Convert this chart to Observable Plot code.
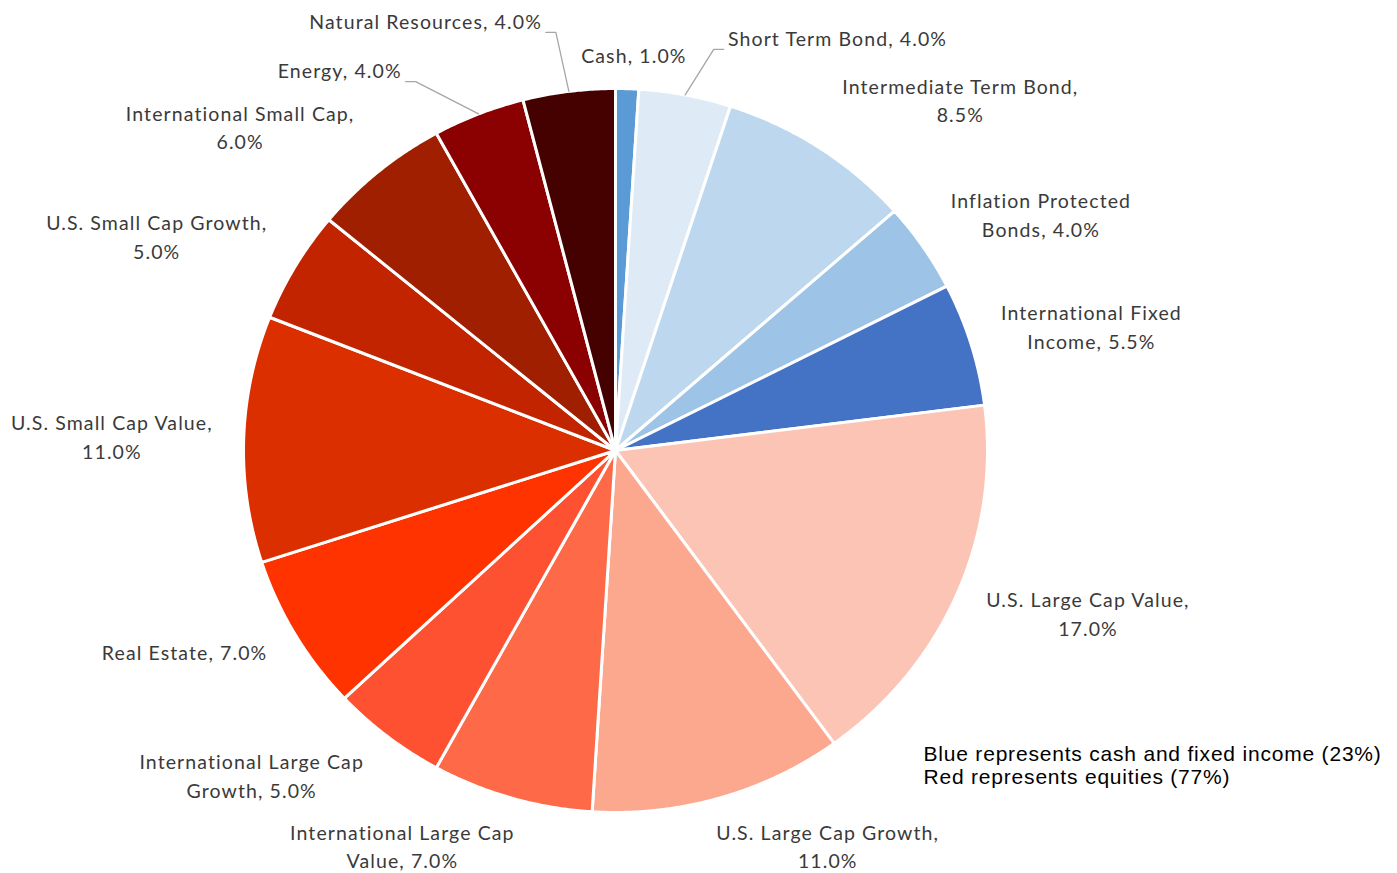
<!DOCTYPE html>
<html><head><meta charset="utf-8">
<script src="https://cdn.jsdelivr.net/npm/d3@7"></script>
<script src="https://cdn.jsdelivr.net/npm/@observablehq/plot@0.6"></script>
<style>
body{margin:0;background:#fff;}
#chart{width:1397px;height:873px;}
</style>
</head><body><div id="chart"></div>
<script>
// ---- data (clockwise from 12 o'clock) ----
const categories = ["Cash","Short Term Bond","Intermediate Term Bond","Inflation Protected Bonds","International Fixed Income","U.S. Large Cap Value","U.S. Large Cap Growth","International Large Cap Value","International Large Cap Growth","Real Estate","U.S. Small Cap Value","U.S. Small Cap Growth","International Small Cap","Energy","Natural Resources"];
const values = [1.0, 4.0, 8.5, 4.0, 5.5, 17.0, 11.0, 7.0, 5.0, 7.0, 11.0, 5.0, 6.0, 4.0, 4.0];
const labelTexts = ["Cash, 1.0%","Short Term Bond, 4.0%","Intermediate Term Bond,\n8.5%","Inflation Protected\nBonds, 4.0%","International Fixed\nIncome, 5.5%","U.S. Large Cap Value,\n17.0%","U.S. Large Cap Growth,\n11.0%","International Large Cap\nValue, 7.0%","International Large Cap\nGrowth, 5.0%","Real Estate, 7.0%","U.S. Small Cap Value,\n11.0%","U.S. Small Cap Growth,\n5.0%","International Small Cap,\n6.0%","Energy, 4.0%","Natural Resources, 4.0%"];
const colors = ["#5b9bd5","#deebf7","#bdd7ee","#9dc3e6","#4472c4","#fcc4b4","#fba88f","#fe6a47","#fd5131","#fe3300","#dc2f00","#c22400","#a01f00","#8b0000","#450000"];
const noteLines = ["Blue represents cash and fixed income (23%)","Red represents equities (77%)"];

// ---- layout config ----
const W = 1397, H = 873, CX = 615, CY = 450, RX = 372, RY = 362;
const FONT = "Lato", FS = 19.5, LH = 28.5, LS = 1.1, NOTE_LS = 0.8;
const leaderCfg = {"Short Term Bond": {k: 1.139, dA: 2.6}, "Energy": {k: 1.152, dA: -6.2}, "Natural Resources": {k: 1.166, dA: -0.7}};

const ctx = document.createElement("canvas").getContext("2d");
ctx.font = `${FS}px ${FONT}`;
const measure = s => ctx.measureText(s).width + LS * s.length;
const total = d3.sum(values);
const ends = d3.cumsum(values);
const deg = Math.PI / 180;

const slicePts = [], labels = [], leaders = [];
categories.forEach((name, i) => {
  const a0 = (ends[i] - values[i]) / total * 2 * Math.PI;
  const a1 = ends[i] / total * 2 * Math.PI;
  slicePts.push({name, color: colors[i], x: 0, y: 0});
  const n = Math.max(2, Math.ceil((a1 - a0) / (0.4 * deg)));
  for (let j = 0; j <= n; j++) {
    const a = a0 + (a1 - a0) * j / n;
    slicePts.push({name, color: colors[i], x: Math.sin(a), y: Math.cos(a)});
  }
  slicePts.push({name, color: colors[i], x: 0, y: 0});

  const th = (a0 + a1) / 2;
  const lines = labelTexts[i].split("\n");
  const w = d3.max(lines, measure);
  const h = lines.length * LH;
  let cxp, cyp;
  if (leaderCfg[name]) {
    const {k, dA} = leaderCfg[name];
    const t2 = th + dA * deg;
    const qx = CX + RX * k * Math.sin(t2), qy = CY - RY * k * Math.cos(t2);
    const side = Math.sin(th) < 0 ? -1 : 1;
    cxp = qx + side * (14 + w / 2);
    cyp = qy - 13;
    const toData = (px, py) => ({x: (px - CX) / RX, y: (CY - py) / RY});
    leaders.push({name, x: Math.sin(th), y: Math.cos(th)});
    leaders.push({name, ...toData(qx, qy)});
    leaders.push({name, ...toData(qx + side * 10, qy)});
  } else {
    const k = 1.05;
    const px = CX + RX * k * Math.sin(th), py = CY - RY * k * Math.cos(th);
    const sx = Math.max(-1, Math.min(1, 3 * Math.sin(th)));
    const c = lines.length === 1 ? (Math.cos(th) > 0 ? 0 : 4) : (Math.cos(th) > 0 ? 10 : 4);
    cxp = px + sx * (w / 2 + 12);
    cyp = py - Math.cos(th) * (h / 2 + c) - 2;
  }
  labels.push({name, text: labelTexts[i], x: (cxp - CX) / RX, y: (CY - cyp) / RY});
});

const chart = Plot.plot({
  width: W, height: H, margin: 0,
  x: {domain: [-CX / RX, (W - CX) / RX], axis: null},
  y: {domain: [-(H - CY) / RY, CY / RY], axis: null},
  color: {type: "identity"},
  style: {fontFamily: FONT, background: "white"},
  marks: [
    Plot.line(slicePts, {x: "x", y: "y", z: "name", fill: "color", stroke: "white", strokeWidth: 3, strokeLinejoin: "round"}),
    Plot.line(leaders, {x: "x", y: "y", z: "name", stroke: "#a6a6a6", strokeWidth: 1.3}),
    Plot.text(labels, {x: "x", y: "y", text: "text", textAnchor: "middle", lineAnchor: "middle", fontSize: FS, lineHeight: LH / FS, fill: "#3a3a3a"}),
    Plot.text([noteLines.join("\n")], {text: d => d, frameAnchor: "top-left", dx: 923, dy: 744, textAnchor: "start", lineAnchor: "top", fontSize: 21, lineHeight: 23 / 21, fill: "#000", fontFamily: "Liberation Sans"})
  ]
});
const textGroups = chart.querySelectorAll('g[aria-label="text"]');
if (textGroups[0]) textGroups[0].style.letterSpacing = LS + "px";
if (textGroups[1]) textGroups[1].style.letterSpacing = NOTE_LS + "px";
document.getElementById("chart").append(chart);
</script></body></html>
